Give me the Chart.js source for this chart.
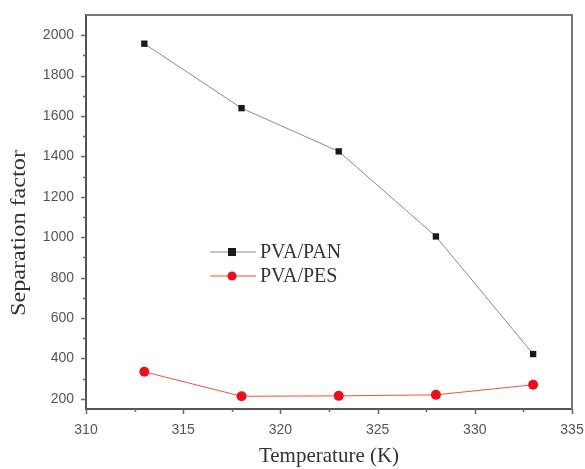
<!DOCTYPE html>
<html>
<head>
<meta charset="utf-8">
<script src="https://cdn.jsdelivr.net/npm/chart.js@4.4.0/dist/chart.umd.min.js"></script>
<style>
    html, body { margin: 0; padding: 0; background: #fff; }
    #wrap { width: 585px; height: 469px; }
</style>
</head>
<body>
<div id="wrap"><canvas id="sepChart"></canvas></div>
<script>
// data
const temperatures = [313, 318, 323, 328, 333];
const pvaPan = [1958, 1639, 1425, 1004, 422];
const pvaPes = [334, 213, 215, 220, 270];
const xLabels = [310, 315, 320, 325, 330, 335];
const yLabels = [200, 400, 600, 800, 1000, 1200, 1400, 1600, 1800, 2000];

const serif = "'Liberation Serif', 'Times New Roman', serif";
const sans = "'Liberation Sans', Arial, sans-serif";

// ticks drawn by hand (major + minor), the top/right frame and the y title
const frameAndTicks = {
    id: "frameAndTicks",
    afterDraw(chart) {
        const ctx = chart.ctx;
        const area = chart.chartArea;
        const xs = chart.scales.x;
        const ys = chart.scales.y;
        ctx.save();
        ctx.strokeStyle = "#666";
        ctx.lineWidth = 1.5;
        ctx.beginPath();
        for (let v = 310; v <= 335; v += 2.5) {
            const px = Math.round(xs.getPixelForValue(v)) + 0.5;
            const len = (v % 5 === 0) ? 5 : 3;
            ctx.moveTo(px, area.bottom);
            ctx.lineTo(px, area.bottom + len);
        }
        for (let v = 200; v <= 2000; v += 100) {
            const py = Math.round(ys.getPixelForValue(v)) + 0.5;
            const len = (v % 200 === 0) ? 5 : 3;
            ctx.moveTo(area.left, py);
            ctx.lineTo(area.left - len, py);
        }
        ctx.stroke();

        // top and right frame
        ctx.strokeStyle = "#777";
        ctx.lineWidth = 2;
        ctx.beginPath();
        ctx.moveTo(area.left, area.top);
        ctx.lineTo(area.right, area.top);
        ctx.lineTo(area.right, area.bottom);
        ctx.stroke();

        // y axis title, a bit stretched like the original
        ctx.fillStyle = "#333";
        ctx.font = "20px " + serif;
        ctx.textAlign = "center";
        ctx.textBaseline = "middle";
        const txt = "Separation factor";
        const w = ctx.measureText(txt).width;
        ctx.translate(20, area.top + 218);
        ctx.rotate(-Math.PI / 2);
        ctx.scale(166 / w, 1);
        ctx.fillText(txt, 0, 0);
        ctx.restore();
    }
};

// legend inside the plot area
const innerLegend = {
    id: "innerLegend",
    afterDatasetsDraw(chart) {
        const ctx = chart.ctx;
        const area = chart.chartArea;
        const x0 = area.left + 124;
        const y0 = area.top + 237;
        ctx.save();
        chart.data.datasets.forEach((ds, i) => {
            const y = y0 + i * 24;
            ctx.strokeStyle = ds.borderColor;
            ctx.lineWidth = 1;
            ctx.beginPath();
            ctx.moveTo(x0, y);
            ctx.lineTo(x0 + 46, y);
            ctx.stroke();
            ctx.fillStyle = ds.pointBackgroundColor;
            const cx = x0 + 22;
            if (ds.pointStyle === "rect") {
                ctx.fillRect(cx - 4, y - 4, 8, 8);
            } else {
                ctx.beginPath();
                ctx.arc(cx, y, 4.5, 0, Math.PI * 2);
                ctx.fill();
            }
            ctx.fillStyle = "#333";
            ctx.font = "20px " + serif;
            ctx.textBaseline = "middle";
            ctx.fillText(ds.label, x0 + 50, y + 1);
        });
        ctx.restore();
    }
};

const ctx = document.getElementById("sepChart").getContext("2d");
new Chart(ctx, {
    type: "line",
    data: {
        datasets: [{
            label: "PVA/PAN",
            data: temperatures.map((t, i) => ({ x: t, y: pvaPan[i] })),
            borderColor: "#8a8a8a",
            borderWidth: 1,
            pointStyle: "rect",
            pointRadius: 4.5,
            pointBackgroundColor: "#1a1a1a",
            pointBorderColor: "#1a1a1a",
            pointBorderWidth: 0
        }, {
            label: "PVA/PES",
            data: temperatures.map((t, i) => ({ x: t, y: pvaPes[i] })),
            borderColor: "#f0553c",
            borderWidth: 1,
            pointStyle: "circle",
            pointRadius: 5,
            pointBackgroundColor: "#e8101c",
            pointBorderColor: "#e8101c",
            pointBorderWidth: 0
        }]
    },
    options: {
        responsive: true,
        maintainAspectRatio: false,
        animation: false,
        layout: { padding: { top: 15, right: 0, left: 0, bottom: 0 } },
        plugins: {
            legend: { display: false },
            tooltip: { enabled: false }
        },
        scales: {
            x: {
                type: "linear",
                min: 310,
                max: 335,
                afterBuildTicks: scale => { scale.ticks = xLabels.map(v => ({ value: v })); },
                afterFit: scale => {
                    scale.height = 60;
                    scale.paddingLeft = 0;
                    scale.paddingRight = 13;
                },
                grid: { display: false, drawTicks: false },
                border: { color: "#555", width: 2 },
                ticks: {
                    padding: 13,
                    color: "#555",
                    font: { family: sans, size: 14 }
                },
                title: {
                    display: true,
                    text: "Temperature (K)",
                    color: "#333",
                    padding: { top: -3, bottom: 0 },
                    font: { family: serif, size: 21 }
                }
            },
            y: {
                min: 150,
                max: 2100,
                afterBuildTicks: scale => { scale.ticks = yLabels.map(v => ({ value: v })); },
                afterFit: scale => {
                    scale.width = 86;
                    scale.paddingTop = 0;
                    scale.paddingBottom = 0;
                },
                grid: { display: false, drawTicks: false },
                border: { color: "#555", width: 2 },
                ticks: {
                    padding: 12,
                    color: "#555",
                    font: { family: sans, size: 14 },
                    callback: v => String(v)
                }
            }
        }
    },
    plugins: [frameAndTicks, innerLegend]
});
</script>
</body>
</html>
